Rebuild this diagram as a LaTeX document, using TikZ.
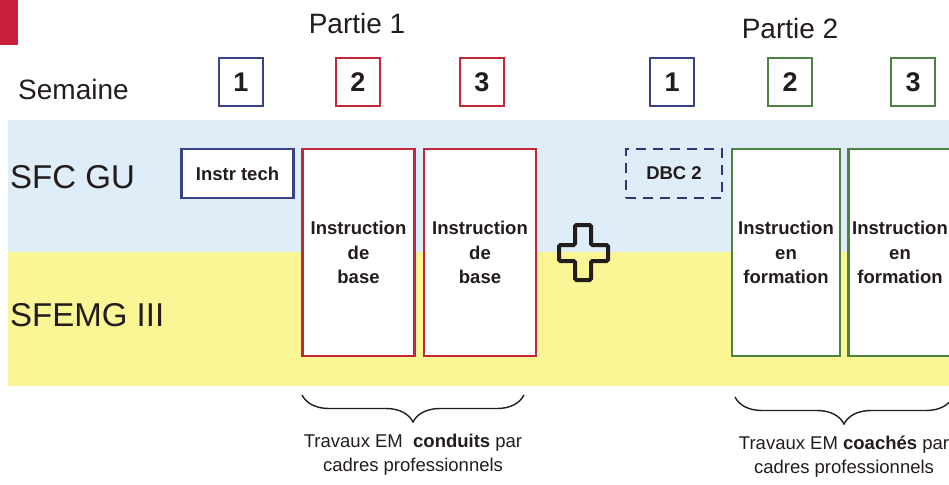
\documentclass[tikz,border=0pt]{standalone}
\usepackage{fontspec}
\setmainfont{Liberation Sans}
\usetikzlibrary{positioning}
\usetikzlibrary{decorations.pathreplacing}

\definecolor{bandblue}{RGB}{222,237,247}
\definecolor{bandyellow}{RGB}{250,246,150}
\definecolor{tabred}{RGB}{200,32,58}
\definecolor{techblue}{RGB}{58,66,140}
\definecolor{basered}{RGB}{196,40,56}
\definecolor{formgreen}{RGB}{76,130,66}
\definecolor{inkdark}{RGB}{35,28,28}

\tikzset{
    part/.style={text=inkdark, font=\fontsize{28}{30}\selectfont},
    rowlabel/.style={anchor=west, inner sep=0pt, text=inkdark, font=\fontsize{33}{36}\selectfont},
    week/.style={draw, line width=2.5pt, fill=white, minimum width=44pt, minimum height=48pt, inner sep=0pt,
        text=inkdark, font=\fontsize{27}{30}\selectfont\bfseries},
    smallbox/.style={draw, line width=2.5pt, minimum width=112pt, minimum height=49pt, inner sep=0pt,
        text=inkdark, font=\fontsize{18.5}{22}\selectfont\bfseries},
    course/.style={draw, line width=2.5pt, fill=white, minimum width=112pt, minimum height=207pt, inner sep=0pt,
        align=center, text=inkdark, font=\fontsize{18.5}{24.5}\selectfont\bfseries},
    bracket/.style={decorate, decoration={brace, mirror, amplitude=27pt, aspect=0.5}, line width=1.4pt, inkdark},
    note/.style={align=center, text=inkdark, font=\fontsize{18.5}{24}\selectfont}
}

\begin{document}
\begin{tikzpicture}[x=1pt,y=-1pt]
    \useasboundingbox (0,0) rectangle (949,484);
    \clip (0,0) rectangle (949,484);

    % bands
    \fill[bandblue] (8,120) rectangle (960,252);
    \fill[bandyellow] (8,252) rectangle (960,386);
    \fill[tabred] (0,0) rectangle (18,45);

    % headings
    \node[part] (part1) at (357,23) {Partie 1};
    \node[part] (part2) at (790,28) {Partie 2};
    \node[rowlabel, font=\fontsize{28}{30}\selectfont] (semaine) at (18,89) {Semaine};
    \node[rowlabel] (sfcgu) at (10,177) {SFC GU};
    \node[rowlabel] (sfemg) at (10,315) {SFEMG III};

    % weeks
    \node[week, draw=techblue] (w11) at (241,82) {1};
    \node[week, draw=basered] (w12) at (358,82) {2};
    \node[week, draw=basered] (w13) at (482,82) {3};
    \node[week, draw=techblue] (w21) at (672,82) {1};
    \node[week, draw=formgreen] (w22) at (790,82) {2};
    \node[week, draw=formgreen] (w23) at (913,82) {3};

    % partie 1
    \node[smallbox, draw=techblue, fill=white] (tech) at (237.5,173.5) {Instr tech};
    \node[course, draw=basered] (base1) at (358.5,252.5) {Instruction\\de\\base};
    \node[course, draw=basered, right=7pt of base1] (base2) {Instruction\\de\\base};

    % plus
    \draw[line width=4pt, inkdark, rounded corners=1.5pt]
        (575,225) -- (591,225) -- (591,245) -- (608,245) -- (608,261) -- (591,261)
        -- (591,280) -- (575,280) -- (575,261) -- (559,261) -- (559,245) -- (575,245) -- cycle;

    % partie 2
    \node[smallbox, draw=techblue!80!black, dashed, dash pattern=on 10pt off 7pt, minimum width=96pt] (dbc) at (674,173.5) {DBC 2};
    \node[course, draw=formgreen, minimum width=108pt] (form1) at (786,252.5) {Instruction\\en\\formation};
    \node[course, draw=formgreen, minimum width=103pt, right=6pt of form1] (form2) {Instruction\\en\\formation};

    % brackets
    \coordinate (b1l) at (302,395);
    \coordinate (b1r) at (524,395);
    \coordinate (b2l) at (735,397);
    \coordinate (b2r) at (953,397);
    \draw[bracket] (b1l) -- (b1r) node[midway, below=35pt, note] (note1) {Travaux EM \ \textbf{conduits} par\\cadres professionnels};
    \draw[bracket] (b2l) -- (b2r) node[midway, below=35pt, note] (note2) {Travaux EM \textbf{coachés} par\\cadres professionnels};
\end{tikzpicture}
\end{document}
